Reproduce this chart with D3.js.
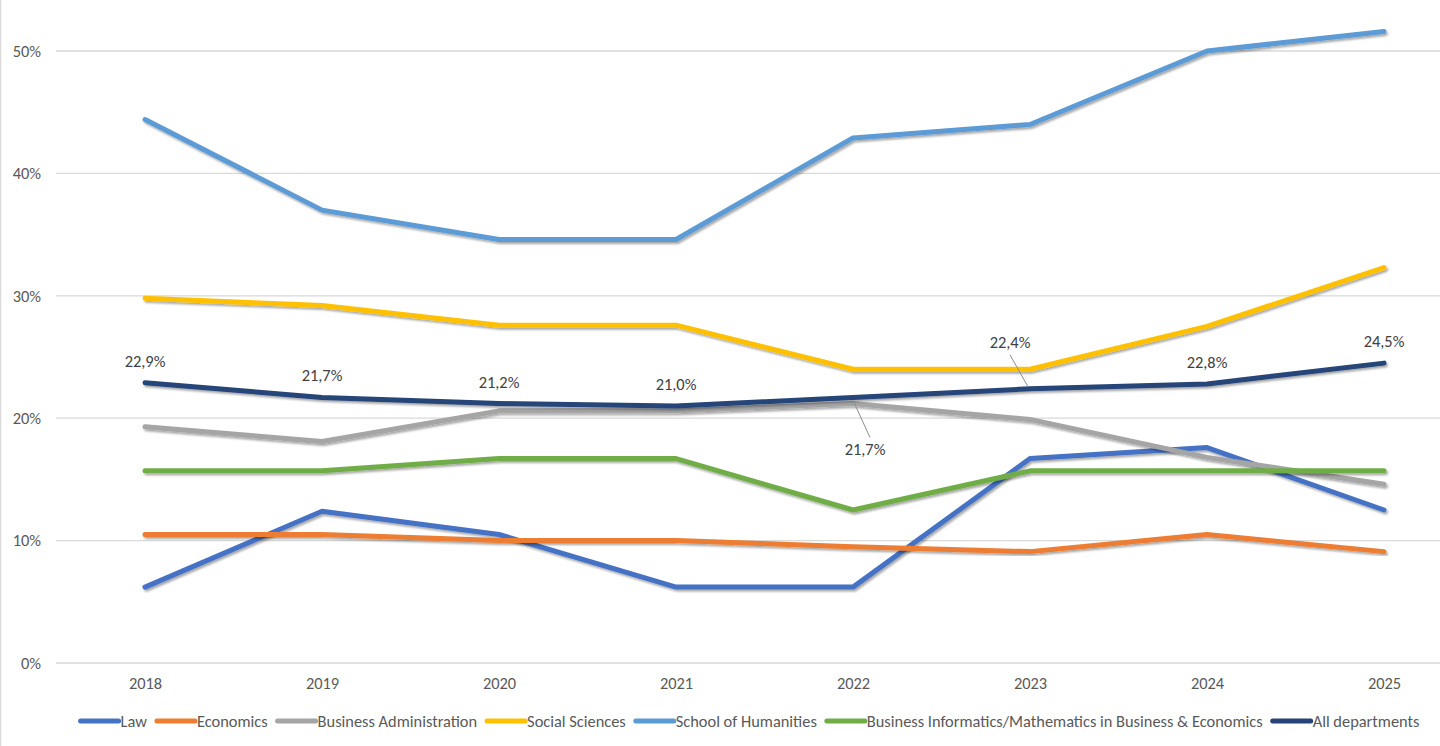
<!DOCTYPE html>
<html><head><meta charset="utf-8">
<script src="https://cdn.jsdelivr.net/npm/d3@7"></script>
<style>
html,body{margin:0;padding:0;background:#fff;}
svg{display:block;font-family:Carlito,Lato,"Liberation Sans",sans-serif;}
</style></head>
<body>
<svg id="chart" width="1440" height="746"></svg>
<script>
const years = [2018, 2019, 2020, 2021, 2022, 2023, 2024, 2025];
const law = [6.2, 12.4, 10.5, 6.2, 6.2, 16.7, 17.6, 12.5];
const economics = [10.5, 10.5, 10.0, 10.0, 9.5, 9.1, 10.5, 9.1];
const businessAdmin = [19.3, 18.1, 20.6, 20.6, 21.2, 19.9, 16.8, 14.6];
const socialSciences = [29.8, 29.2, 27.6, 27.6, 24.0, 24.0, 27.5, 32.3];
const humanities = [44.4, 37.0, 34.6, 34.6, 42.9, 44.0, 50.0, 51.6];
const businessInformatics = [15.7, 15.7, 16.7, 16.7, 12.5, 15.7, 15.7, 15.7];
const allDepartments = [22.9, 21.7, 21.2, 21.0, 21.7, 22.4, 22.8, 24.5];
const yTicks = [0, 10, 20, 30, 40, 50];
const seriesNames = ["Law", "Economics", "Business Administration", "Social Sciences", "School of Humanities", "Business Informatics/Mathematics in Business & Economics", "All departments"];
const seriesColors = ["#4472C4", "#ED7D31", "#A5A5A5", "#FFC000", "#5B9BD5", "#70AD47", "#264478"];

const series = [law, economics, businessAdmin, socialSciences, humanities, businessInformatics, allDepartments]
  .map((v, i) => ({name: seriesNames[i], color: seriesColors[i], values: v}));

const svg = d3.select("#chart");
const W = 1440, H = 746;
const plotL = 56, plotR = 1440;
const FS = "16.4px";
const FF = "Carlito,Lato,'Liberation Sans',sans-serif";

const x = d3.scalePoint().domain(years).range([145, 1384]);
const y = d3.scaleLinear().domain([0, 50]).range([663, 51]);

// frame
svg.append("rect").attr("x", 0.5).attr("y", -2).attr("width", W + 2).attr("height", H + 4)
  .attr("fill", "none").attr("stroke", "#d9d9d9").attr("stroke-width", 1.5);

const defs = svg.append("defs");
const f = defs.append("filter").attr("id", "shadow").attr("x", "-5%").attr("y", "-20%").attr("width", "110%").attr("height", "140%");
f.append("feDropShadow").attr("dx", 1.5).attr("dy", 2).attr("stdDeviation", 1.2)
  .attr("flood-color", "#000").attr("flood-opacity", 0.35);

// grid
svg.append("g").selectAll("line").data(yTicks).join("line")
  .attr("x1", plotL).attr("x2", plotR)
  .attr("y1", d => y(d)).attr("y2", d => y(d))
  .attr("stroke", "#d9d9d9").attr("stroke-width", 1.3);

// y axis labels
const yAxis = d3.axisLeft(y).tickValues(yTicks).tickFormat(d => d + "%").tickSize(0).tickPadding(0);
const gy = svg.append("g").attr("transform", "translate(41,0)").call(yAxis);
gy.select(".domain").remove();
gy.selectAll("text").attr("fill", "#595959").style("font-size", FS).style("font-family", FF);

// x axis labels
const xAxis = d3.axisBottom(x).tickSize(0).tickPadding(0);
const gx = svg.append("g").attr("transform", "translate(0,677)").call(xAxis);
gx.select(".domain").remove();
gx.selectAll("text").attr("fill", "#595959").style("font-size", FS).style("font-family", FF);

// lines
const line = d3.line().x((d, i) => x(years[i])).y(d => y(d));
svg.append("g").selectAll("path").data(series).join("path")
  .attr("d", d => line(d.values))
  .attr("fill", "none").attr("stroke", d => d.color)
  .attr("stroke-width", 5).attr("stroke-linecap", "round").attr("stroke-linejoin", "round")
  .attr("filter", "url(#shadow)");

// data labels for All departments
const fmt = v => v.toFixed(1).replace(".", ",") + "%";
const labelOffsets = [[0, -16], [0, -16], [0, -16], [0, -16], [12, 58], [-20, -41], [0, -16], [0, -16]];
const lg = svg.append("g");
allDepartments.forEach((v, i) => {
  const px = x(years[i]), py = y(v);
  const [dx, dy] = labelOffsets[i];
  if (i === 4) {
    lg.append("line").attr("x1", px).attr("y1", py + 3).attr("x2", px + 17).attr("y2", py + 40)
      .attr("stroke", "#8c8c8c").attr("stroke-width", 1);
  }
  if (i === 5) {
    lg.append("line").attr("x1", px - 20).attr("y1", py - 34).attr("x2", px - 2).attr("y2", py - 2)
      .attr("stroke", "#8c8c8c").attr("stroke-width", 1);
  }
  lg.append("text").attr("x", px + dx).attr("y", py + dy)
    .attr("text-anchor", "middle").attr("fill", "#404040")
    .style("font-size", FS).text(fmt(v));
});

// legend
const legY = 721;
const sw = 38, gapText = 2, gapItem = 10;
const lgd = svg.append("g");
const items = lgd.selectAll("g").data(series).join("g");
items.append("line").attr("x1", 0).attr("x2", sw).attr("y1", 0).attr("y2", 0)
  .attr("stroke", d => d.color).attr("stroke-width", 5).attr("stroke-linecap", "round");
items.append("text").attr("x", sw + gapText).attr("y", 5.5).attr("fill", "#595959")
  .style("font-size", FS).text(d => d.name);
const widths = [];
items.each(function() {
  const w = sw + gapText + this.querySelector("text").getComputedTextLength();
  widths.push(w);
});
const total = d3.sum(widths) + gapItem * (widths.length - 1);
let start = 750 - total / 2;
items.attr("transform", (d, i) => {
  const t = `translate(${start},${legY})`;
  start += widths[i] + gapItem;
  return t;
});
</script>
</body></html>
